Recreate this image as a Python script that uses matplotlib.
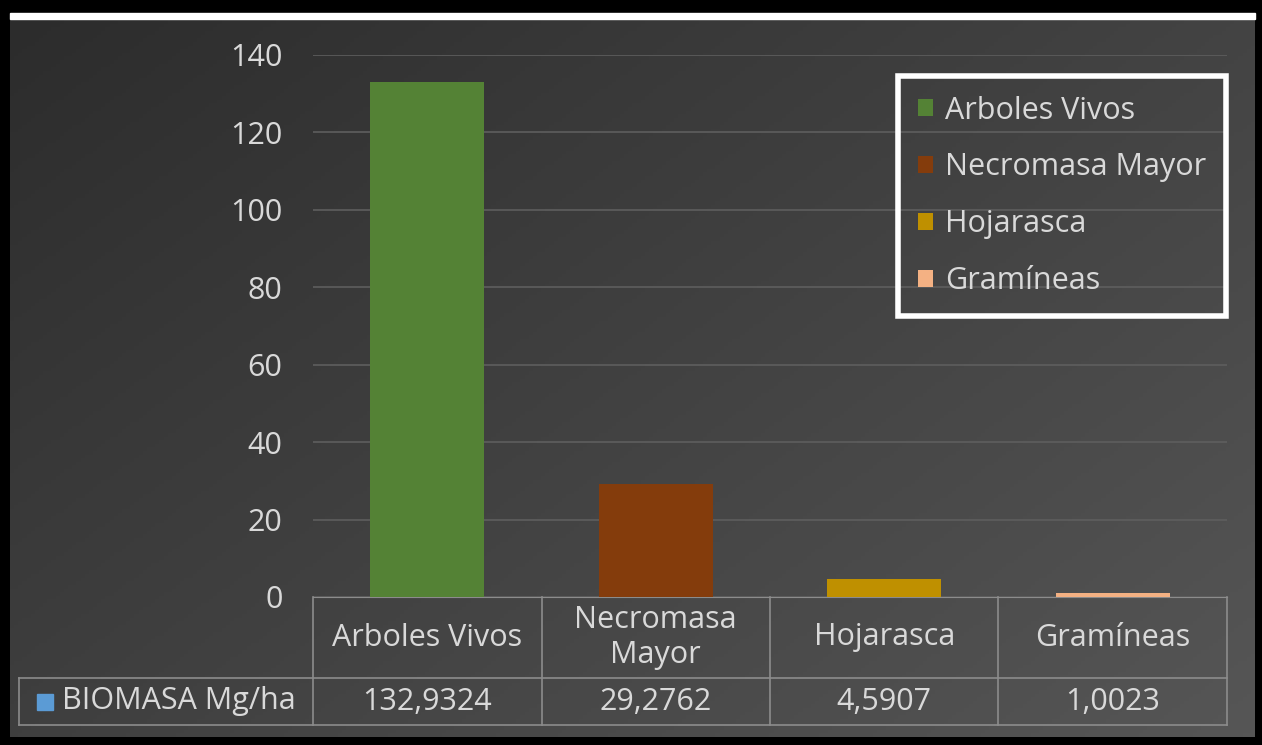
import numpy as np
import matplotlib.pyplot as plt
import matplotlib.transforms as mtransforms
from matplotlib.colors import LinearSegmentedColormap
from matplotlib.patches import Patch, Rectangle

categorias = ["Arboles Vivos", "Necromasa Mayor", "Hojarasca", "Gramíneas"]
etiquetas_tabla = ["Arboles Vivos", "Necromasa\nMayor", "Hojarasca", "Gramíneas"]
biomasa = [132.9324, 29.2762, 4.5907, 1.0023]
colores = ["#548235", "#843c0c", "#bf9000", "#f4b183"]
serie = "BIOMASA Mg/ha"
color_serie = "#5b9bd5"
yticks = [0, 20, 40, 60, 80, 100, 120, 140]

plt.rcParams['font.family'] = ['Open Sans', 'DejaVu Sans']
txt = '#d9d9d9'
linea_tabla = '#8c8c8c'
fs = 22

W, H = 1262, 745
fig = plt.figure(figsize=(W / 100, H / 100), dpi=100, facecolor='black')

# fondo con degradado
bg = fig.add_axes([0, 0, 1, 1], zorder=0)
bg.set_xlim(0, W)
bg.set_ylim(H, 0)
bg.axis('off')
yy, xx = np.mgrid[0:1:200j, 0:1:300j]
grad = 0.55 * xx + 0.45 * yy
cmap = LinearSegmentedColormap.from_list('fondo', ['#2c2c2c', '#565656'])
bg.imshow(grad, extent=[10, 1255, 737, 13], cmap=cmap, aspect='auto')
bg.add_patch(Rectangle((10, 13), 1245, 6, color='white'))

# grafico principal
ax = fig.add_axes([313 / W, (H - 597) / H, (1227 - 313) / W, (597 - 55) / H], zorder=2)
ax.set_facecolor('none')
x = np.arange(len(categorias))
barras = ax.bar(x, biomasa, width=0.5, color=colores, zorder=3)
ax.set_xlim(-0.5, 3.5)
ax.set_ylim(0, 140)
ax.set_yticks(yticks)
ax.set_xticks([])
ax.grid(axis='y', color='#5e5e5e', linewidth=1.2, zorder=0)
for s in ['top', 'right', 'left']:
    ax.spines[s].set_visible(False)
ax.spines['bottom'].set_color(linea_tabla)
ax.tick_params(axis='y', length=0, pad=22, labelsize=fs, labelcolor=txt)

# tabla de datos debajo del eje
tr = mtransforms.blended_transform_factory(ax.transData, ax.transAxes)
r1 = -81 / 542
r2 = -128 / 542
xizq = -0.5 - (313 - 19) / 228.5
for xv in np.arange(-0.5, 4, 1.0):
    ax.plot([xv, xv], [0, r2], color=linea_tabla, lw=1.2, transform=tr, clip_on=False)
ax.plot([xizq, xizq], [r1, r2], color=linea_tabla, lw=1.2, transform=tr, clip_on=False)
ax.plot([xizq, 3.5], [r1, r1], color=linea_tabla, lw=1.2, transform=tr, clip_on=False)
ax.plot([xizq, 3.5], [r2, r2], color=linea_tabla, lw=1.2, transform=tr, clip_on=False)

for i, (lab, v) in enumerate(zip(etiquetas_tabla, biomasa)):
    ax.text(i, r1 / 2, lab, ha='center', va='center', color=txt, fontsize=fs,
            transform=tr, linespacing=1.2)
    ax.text(i, (r1 + r2) / 2, f"{v:.4f}".replace('.', ','), ha='center', va='center',
            color=txt, fontsize=fs, transform=tr)

ax.plot([-0.5 - (313 - 44.5) / 228.5], [(r1 + r2) / 2], marker='s', markersize=11,
        color=color_serie, transform=tr, clip_on=False)
ax.text(-0.5 - (313 - 62) / 228.5, (r1 + r2) / 2, serie, ha='left', va='center',
        color=txt, fontsize=fs, transform=tr)

# leyenda
handles = [Patch(facecolor=c) for c in colores]
leg = ax.legend(handles, categorias, loc='upper right',
                bbox_to_anchor=(1226 / W, 1 - 76 / H), bbox_transform=fig.transFigure,
                frameon=True, fancybox=False, facecolor='none', edgecolor='white',
                framealpha=1, borderaxespad=0,
                handlelength=0.5, handleheight=0.5, handletextpad=0.4,
                labelspacing=0.88, fontsize=fs, labelcolor=txt, borderpad=0.64)
leg.get_frame().set_linewidth(4)

fig.savefig('out.png', dpi=100, facecolor='black')
